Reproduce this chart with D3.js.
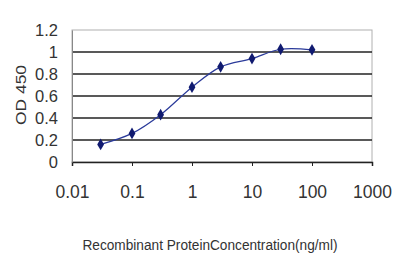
<!DOCTYPE html>
<html><head><meta charset="utf-8">
<script src="https://cdn.jsdelivr.net/npm/d3@7"></script>
<style>body{margin:0;background:#fff}svg{display:block}</style>
</head><body>
<svg id="c" width="400" height="267"></svg>
<script>
const concentrations = [0.03, 0.1, 0.3, 1, 3, 10, 30, 100];
const odValues = [0.16, 0.26, 0.43, 0.68, 0.865, 0.94, 1.025, 1.02];
const xTicks = [0.01, 0.1, 1, 10, 100, 1000];
const xTickLabels = ["0.01", "0.1", "1", "10", "100", "1000"];
const yTicks = [0, 0.2, 0.4, 0.6, 0.8, 1, 1.2];
const yTickLabels = ["0", "0.2", "0.4", "0.6", "0.8", "1", "1.2"];
const xTitle = "Recombinant ProteinConcentration(ng/ml)";
const yTitle = "OD 450";

const svg = d3.select("#c");
const L = 72, R = 372, T = 30, B = 162;
const x = d3.scaleLog().domain([0.01, 1000]).range([L, R]);
const y = d3.scaleLinear().domain([0, 1.2]).range([B, T]);
const font = "Arial, 'Liberation Sans', sans-serif";

// plot border
svg.append("rect").attr("x", L).attr("y", T).attr("width", R - L).attr("height", B - T)
  .attr("fill", "#fff").attr("stroke", "#b0b0b0").attr("stroke-width", 1);

// gridlines
svg.append("g").selectAll("line").data(yTicks.filter(d => d > 0 && d < 1.2)).join("line")
  .attr("x1", L).attr("x2", R).attr("y1", d => y(d)).attr("y2", d => y(d))
  .attr("stroke", "#222").attr("stroke-width", 1.5);

// x axis
const xa = svg.append("g").attr("transform", `translate(0,${B})`)
  .call(d3.axisBottom(x).tickValues(xTicks).tickFormat((d, i) => xTickLabels[i]).tickSize(4).tickPadding(20));
xa.select(".domain").attr("stroke", "#222").attr("stroke-width", 1.5);
xa.selectAll(".tick line").attr("stroke", "#222");
xa.selectAll("text").attr("font-family", font).attr("font-size", 17.5).attr("fill", "#333");

// y axis
const ya = svg.append("g").attr("transform", `translate(${L},0)`)
  .call(d3.axisLeft(y).tickValues(yTicks).tickFormat((d, i) => yTickLabels[i]).tickSize(0).tickPadding(14));
ya.select(".domain").attr("stroke", "#888");
ya.selectAll("text").attr("font-family", font).attr("font-size", 16.5).attr("fill", "#333");

// titles
svg.append("text").attr("x", 210).attr("y", 250).attr("text-anchor", "middle")
  .attr("font-family", font).attr("font-size", 14).attr("fill", "#333")
  .attr("textLength", 255).attr("lengthAdjust", "spacingAndGlyphs").text(xTitle);
svg.append("text").attr("transform", `translate(26,${(T + B) / 2 - 1}) rotate(-90)`).attr("text-anchor", "middle")
  .attr("font-family", font).attr("font-size", 15.5).attr("fill", "#333")
  .attr("textLength", 60).attr("lengthAdjust", "spacingAndGlyphs").text(yTitle);

// curve
const pts = concentrations.map((c, i) => [c, odValues[i]]);
svg.append("path").datum(pts)
  .attr("d", d3.line().x(d => x(d[0])).y(d => y(d[1])).curve(d3.curveCatmullRom.alpha(0.5)))
  .attr("fill", "none").attr("stroke", "#2a3a9a").attr("stroke-width", 1.2);

svg.append("g").selectAll("path").data(pts).join("path")
  .attr("transform", d => `translate(${x(d[0])},${y(d[1])})`)
  .attr("d", d3.symbol().type(d3.symbolDiamond).size(40))
  .attr("fill", "#101a70");
</script>
</body></html>
